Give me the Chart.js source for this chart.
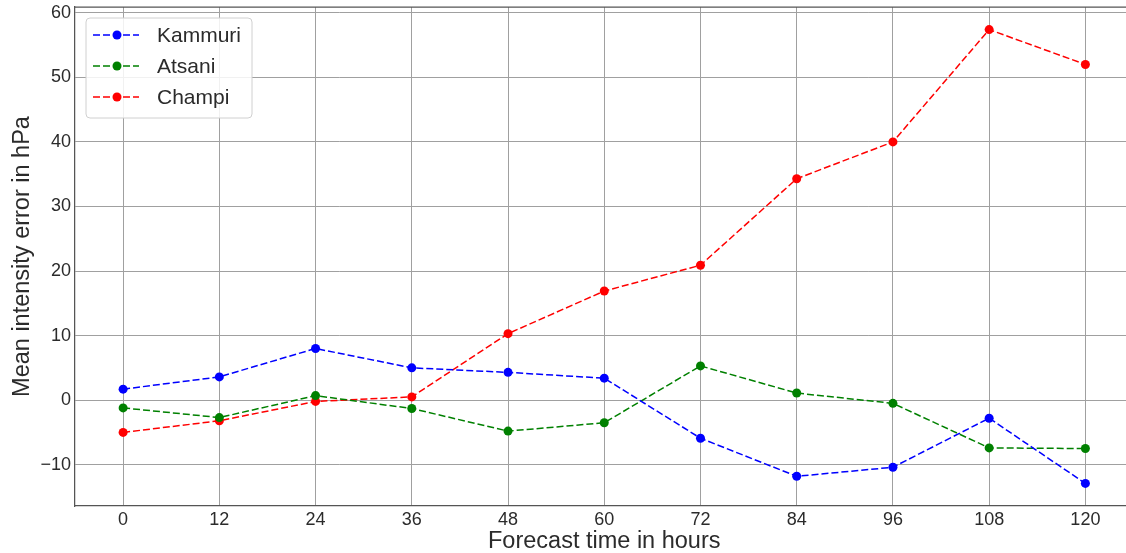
<!DOCTYPE html>
<html>
<head>
<meta charset="utf-8">
<script src="https://cdn.jsdelivr.net/npm/chart.js@4.4.1/dist/chart.umd.min.js"></script>
<style>
  html, body { margin: 0; padding: 0; background: #fff; overflow: hidden; }
  #wrap { width: 1138px; height: 553px; }
</style>
</head>
<body>
<div id="wrap"><canvas id="errChart" width="1138" height="553"></canvas></div>
<script>
// forecast lead times (hours)
const hours = [0, 12, 24, 36, 48, 60, 72, 84, 96, 108, 120];

// mean intensity error per storm (hPa)
const kammuri = [1.7, 3.6, 8.0, 5.0, 4.3, 3.4, -5.9, -11.8, -10.4, -2.8, -12.9];
const atsani  = [-1.2, -2.7, 0.7, -1.3, -4.8, -3.5, 5.3, 1.1, -0.5, -7.4, -7.5];
const champi  = [-5.0, -3.2, -0.2, 0.5, 10.3, 16.9, 20.9, 34.3, 40.0, 57.4, 52.0];

const yTicks = [-10, 0, 10, 20, 30, 40, 50, 60];

const FONT = "'Liberation Sans', Arial, sans-serif";
const TEXT = '#2b2b2b';

function toPoints(vals) {
    return hours.map(function (h, i) { return { x: h, y: vals[i] }; });
}

function series(label, vals, color) {
    return {
        label: label,
        data: toPoints(vals),
        borderColor: color,
        backgroundColor: color,
        borderWidth: 1.5,
        borderDash: [7, 3],
        pointRadius: 4.5,
        pointHoverRadius: 4.5,
        pointBorderWidth: 0,
        tension: 0
    };
}

// frame on top + legend box in the upper left, matplotlib style
const framePlugin = {
    id: 'frameAndLegend',
    afterDraw: function (chart) {
        const c = chart.ctx;
        const a = chart.chartArea;
        c.save();
        c.strokeStyle = '#555';
        c.lineWidth = 1.25;
        c.beginPath();
        c.moveTo(a.left, a.top);
        c.lineTo(a.right, a.top);
        c.stroke();

        // legend
        const bx = 86, by = 18, bw = 166, bh = 100;
        c.beginPath();
        c.roundRect(bx, by, bw, bh, 4);
        c.fillStyle = 'rgba(255,255,255,0.85)';
        c.fill();
        c.strokeStyle = '#d0d0d0';
        c.lineWidth = 1;
        c.stroke();

        chart.data.datasets.forEach(function (ds, i) {
            const y = 35 + i * 31;
            c.strokeStyle = ds.borderColor;
            c.lineWidth = 1.5;
            c.setLineDash([7, 3]);
            c.beginPath();
            c.moveTo(93, y);
            c.lineTo(139, y);
            c.stroke();
            c.setLineDash([]);
            c.fillStyle = ds.borderColor;
            c.beginPath();
            c.arc(117, y, 4.5, 0, Math.PI * 2);
            c.fill();
            c.fillStyle = TEXT;
            c.font = '21px ' + FONT;
            c.textBaseline = 'middle';
            c.textAlign = 'left';
            c.fillText(ds.label, 157, y + 1);
        });
        c.restore();
    }
};

const ctx = document.getElementById('errChart');
new Chart(ctx.getContext('2d'), {
    type: 'line',
    data: {
        datasets: [
            series('Kammuri', kammuri, '#0000ff'),
            series('Atsani', atsani, '#008000'),
            series('Champi', champi, '#ff0000')
        ]
    },
    options: {
        responsive: false,
        animation: false,
        devicePixelRatio: 1,
        layout: { padding: { top: 7, left: 0, right: 0, bottom: 0 } },
        plugins: {
            legend: { display: false },
            tooltip: { enabled: false }
        },
        scales: {
            x: {
                type: 'linear',
                min: -6,
                max: 126,
                afterBuildTicks: function (s) { s.ticks = hours.map(function (v) { return { value: v }; }); },
                afterFit: function (s) { s.height = 47; s.paddingLeft = 0; s.paddingRight = 0; },
                grid: { color: '#a0a0a0', lineWidth: 1, drawTicks: false },
                border: { display: true, color: '#555', width: 1.25 },
                ticks: { color: TEXT, font: { family: FONT, size: 18 }, padding: 3, maxRotation: 0 },
                title: {
                    display: true,
                    text: 'Forecast time in hours',
                    color: TEXT,
                    font: { family: FONT, size: 23.5, lineHeight: 1.0 },
                    padding: { top: 0, bottom: 0 }
                }
            },
            y: {
                min: -16.4,
                max: 60.9,
                afterBuildTicks: function (s) { s.ticks = yTicks.map(function (v) { return { value: v }; }); },
                afterFit: function (s) { s.width = 75; s.paddingTop = 0; s.paddingBottom = 0; },
                grid: { color: '#a0a0a0', lineWidth: 1, drawTicks: false },
                border: { display: true, color: '#555', width: 1.25 },
                ticks: {
                    color: TEXT,
                    font: { family: FONT, size: 18 },
                    padding: 4,
                    callback: function (v) { return v < 0 ? '\u2212' + Math.abs(v) : String(v); }
                },
                title: {
                    display: true,
                    text: 'Mean intensity error in hPa',
                    color: TEXT,
                    font: { family: FONT, size: 23.5 },
                    padding: { top: 8, bottom: 0 }
                }
            }
        }
    },
    plugins: [framePlugin]
});
</script>
</body>
</html>
